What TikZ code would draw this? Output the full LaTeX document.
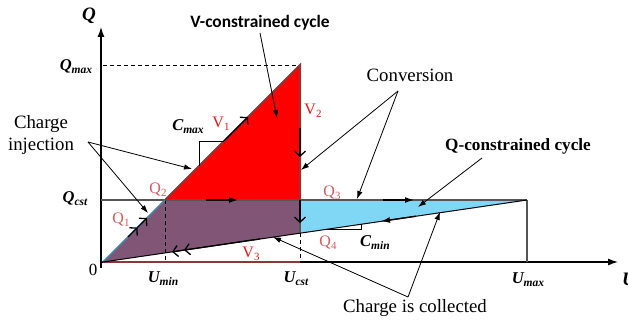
\documentclass[tikz,border=0pt]{standalone}
\usepackage{fontspec}
\setmainfont{Liberation Serif}
\newfontfamily\calib{Carlito}
\usetikzlibrary{arrows.meta}
\definecolor{redfill}{RGB}{255,0,0}
\definecolor{purp}{RGB}{128,85,117}
\definecolor{skyb}{RGB}{128,214,245}
\definecolor{dred}{RGB}{140,55,55}
\definecolor{qred}{RGB}{214,90,90}
\definecolor{vred}{RGB}{240,20,20}
\definecolor{steel}{RGB}{70,130,170}
\definecolor{gline}{RGB}{85,85,85}
\newcommand{\bisub}[2]{{\fontsize{16.5}{18}\selectfont\bfseries\itshape #1\raisebox{-3pt}{\fontsize{11.5}{12}\selectfont #2}}}
\newcommand{\rsub}[3]{\textcolor{#1}{\fontsize{16}{18}\selectfont #2\raisebox{-3pt}{\fontsize{11}{12}\selectfont #3}}}
\begin{document}
\begin{tikzpicture}[x=1pt,y=-1pt,
  ann/.style={line width=0.8pt,-{Latex[length=8pt,width=5.5pt]}},
  cyc/.style={line width=1.4pt,-{Latex[length=9pt,width=6pt]}},
  cycopen/.style={line width=1.3pt,-{Straight Barb[length=5pt,width=11pt]}},
  txt/.style={inner sep=0pt,font=\fontsize{18.8}{22.5}\selectfont},
  lab/.style={inner sep=0pt},
  dsh/.style={dashed,line width=0.8pt,dash pattern=on 4pt off 3pt},
]
\useasboundingbox (0,0) rectangle (628,321);
% key points
\coordinate (O) at (103,262);
\coordinate (Qt) at (300,65);
\coordinate (Q2) at (165,200);
\coordinate (Qc) at (300,200);
\coordinate (Q4) at (300,233.1);
\coordinate (Q3) at (527,200);
\coordinate (Um) at (527,262);
\coordinate (Uc) at (300,262);
\coordinate (Un) at (165,262);
\coordinate (Qm) at (103,65);
\coordinate (Ql) at (101,200);
\coordinate (Ybot) at (101,268);
\coordinate (Ytop) at (101,27);
\coordinate (Xl) at (101,262);
\coordinate (Xr) at (618,262);
% fills
\fill[purp] (O) -- (Q2) -- (Qc) -- (Q4) -- cycle;
\fill[redfill] (Q2) -- (Qt) -- (Qc) -- cycle;
\fill[skyb] (Qc) -- (Q3) -- (Q4) -- cycle;
% axes
\draw[line width=1.2pt,-{Latex[length=10pt,width=7pt]}] (Ybot) -- (Ytop);
\draw[line width=1.2pt,-{Latex[length=10pt,width=7pt]}] (Xl) -- (Xr);
\draw[dred,line width=1.4pt] (O) -- (Uc);
% reference lines
\draw[gline,line width=1.2pt] (Ql) -- (Q3);
\draw[gline,line width=1.2pt] (Q3) -- (Um);
\draw[dsh] (Qm) -- (Qt);
\draw[dsh] (Q2) -- (Un);
\draw[dsh] (Q4) -- (Uc);
% cycle edges
\draw[steel,line width=1.6pt] (O) -- (Q2);
\draw[dred,line width=2pt] (Q2) -- (Qt) -- (Qc);
\draw[gline,line width=1.2pt] (Qc) -- (Q4);
\draw[black,line width=1pt] (O) -- (Q3);
% slope markers
\coordinate (cm1) at (199,166);
\coordinate (cm2) at (199,141);
\coordinate (cm3) at (224,141);
\draw[line width=0.8pt] (cm1) -- (cm2) -- (cm3);
\coordinate (cn1) at (325,229.5);
\coordinate (cn2) at (361,229.5);
\coordinate (cn3) at (361,224);
\draw[line width=0.8pt] (cn1) -- (cn2) -- (cn3);
% cycle direction arrows
\coordinate (d1) at (128,237);
\coordinate (d2) at (137.5,227.5);
\coordinate (d3) at (147,218);
\draw[cycopen] (d1) -- (d2);
\draw[cycopen] (d2) -- (d3);
\coordinate (v1a) at (224,141);
\coordinate (v1b) at (248,117);
\draw[cycopen] (v1a) -- (v1b);
\coordinate (v2a) at (300,128);
\coordinate (v2b) at (300,157);
\draw[cycopen] (v2a) -- (v2b);
\coordinate (ha) at (206,200);
\coordinate (hb) at (238,200);
\draw[cyc] (ha) -- (hb);
\coordinate (v4a) at (300,200);
\coordinate (v4b) at (300,223);
\draw[cycopen] (v4a) -- (v4b);
\coordinate (h3a) at (383,200);
\coordinate (h3b) at (414,200);
\draw[cyc] (h3a) -- (h3b);
\coordinate (l1a) at (416,216.2);
\coordinate (l1b) at (381,221.3);
\draw[cyc] (l1a) -- (l1b);
\coordinate (l2a) at (260,238.9);
\coordinate (l2b) at (184,250.1);
\coordinate (l2c) at (172,251.9);
\draw[cycopen] (l2a) -- (l2b);
\draw[cycopen] (l2b) -- (l2c);
% axis labels
\node[lab,font=\fontsize{19}{20}\selectfont\bfseries\itshape] (qax) at (89,16) {Q};
\node[lab,font=\fontsize{19}{20}\selectfont\bfseries\itshape,anchor=west] (uax) at (622,279) {U};
\node[lab] (lqmax) at (76,67) {\bisub{Q}{max}};
\node[lab] (lqcst) at (75,199) {\bisub{Q}{cst}};
\node[lab,font=\fontsize{17}{18}\selectfont] (lzero) at (93,270) {0};
\node[lab] (lumin) at (163,279) {\bisub{U}{min}};
\node[lab] (lucst) at (296,279) {\bisub{U}{cst}};
\node[lab] (lumax) at (528,280) {\bisub{U}{max}};
\node[lab] (lcmax) at (188,127) {\bisub{C}{max}};
\node[lab] (lcmin) at (375,243) {\bisub{C}{min}};
% red labels
\node[lab] (lv1) at (221,124) {\rsub{vred}{V}{1}};
\node[lab] (lv2) at (313,111) {\rsub{vred}{V}{2}};
\node[lab] (lv3) at (251,254) {\rsub{vred}{V}{3}};
\node[lab] (lq1) at (121,220) {\rsub{qred}{Q}{1}};
\node[lab] (lq2) at (158,190) {\rsub{qred}{Q}{2}};
\node[lab] (lq3) at (332,193) {\rsub{qred}{Q}{3}};
\node[lab] (lq4) at (328,243) {\rsub{qred}{Q}{4}};
% annotation texts
\node[txt,align=center] (tinj) at (41,135) {Charge\\injection};
\node[txt] (tconv) at (410,75) {Conversion};
\node[lab,font=\calib\fontsize{17.4}{19}\selectfont\bfseries] (tv) at (260,23) {V-constrained cycle};
\node[lab,font=\fontsize{17.2}{19}\selectfont\bfseries] (tq) at (518,146) {Q-constrained cycle};
\node[txt] (tcol) at (415,308) {Charge is collected};
% annotation arrows
\coordinate (av) at (260,33);
\coordinate (avt) at (277,118);
\draw[ann] (av) -- (avt);
\coordinate (ac) at (398,91);
\coordinate (act1) at (301,170);
\coordinate (act2) at (357,199);
\draw[ann] (ac) -- (act1);
\draw[ann] (ac) -- (act2);
\coordinate (aq) at (482,158);
\coordinate (aqt) at (418,207);
\draw[ann] (aq) -- (aqt);
\coordinate (ai) at (88,142);
\coordinate (ait1) at (192,169);
\coordinate (ait2) at (148,213);
\draw[ann] (ai) -- (ait1);
\draw[ann] (ai) -- (ait2);
\coordinate (ak) at (408,297);
\coordinate (akt1) at (273,237);
\coordinate (akt2) at (440,212);
\draw[ann] (ak) -- (akt1);
\draw[ann] (ak) -- (akt2);
\end{tikzpicture}
\end{document}
